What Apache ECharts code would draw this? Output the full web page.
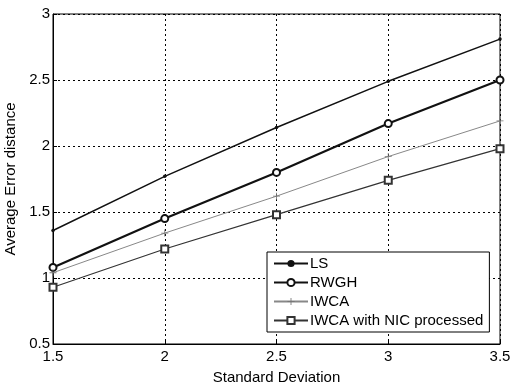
<!DOCTYPE html>
<html><head><meta charset="utf-8">
<script src="https://cdn.jsdelivr.net/npm/echarts@6/dist/echarts.min.js"></script>
<style>html,body{margin:0;padding:0;background:#fff}#c{width:510px;height:386px}</style>
</head><body><div id="c"></div>
<script>
const xValues = [1.5, 2, 2.5, 3, 3.5];
const lsValues = [1.36, 1.77, 2.14, 2.49, 2.81];
const rwghValues = [1.08, 1.45, 1.80, 2.17, 2.50];
const iwcaValues = [1.04, 1.34, 1.62, 1.92, 2.19];
const nicValues = [0.93, 1.22, 1.48, 1.74, 1.98];
const seriesNames = ['LS', 'RWGH', 'IWCA', 'IWCA with NIC processed'];
const xTitle = 'Standard Deviation';
const yTitle = 'Average Error distance';

const pair = v => xValues.map((x, i) => [x, v[i]]);
const font = 'Liberation Sans, Arial, sans-serif';
const plus = 'path://M4.4,0H5.6V4.4H10V5.6H5.6V10H4.4V5.6H0V4.4H4.4Z';

const chart = echarts.init(document.getElementById('c'), null, {renderer: 'canvas'});
chart.setOption({
  animation: false,
  backgroundColor: '#fff',
  grid: {left: 53, right: 10, top: 14, bottom: 42, show: true, borderColor: '#000', borderWidth: 1,
         containLabel: false, outerBoundsMode: 'none'},
  xAxis: {
    type: 'value', min: 1.5, max: 3.5, interval: 0.5,
    name: xTitle, nameLocation: 'middle', nameGap: 26,
    nameTextStyle: {fontFamily: font, fontSize: 15, color: '#000'},
    axisLine: {lineStyle: {color: '#000'}},
    axisTick: {inside: true, length: 4, lineStyle: {color: '#000'}},
    axisLabel: {fontFamily: font, fontSize: 15, color: '#000', margin: 5},
    splitLine: {show: true, lineStyle: {color: '#000', type: [2, 3], width: 1}}
  },
  yAxis: {
    type: 'value', min: 0.5, max: 3, interval: 0.5,
    name: yTitle, nameLocation: 'middle', nameGap: 31,
    nameTextStyle: {fontFamily: font, fontSize: 15, color: '#000'},
    axisLine: {lineStyle: {color: '#000'}},
    axisTick: {inside: true, length: 4, lineStyle: {color: '#000'}},
    axisLabel: {fontFamily: font, fontSize: 15, color: '#000', margin: 3},
    splitLine: {show: true, lineStyle: {color: '#000', type: [2, 3], width: 1}}
  },
  legend: {
    orient: 'vertical', left: 267, top: 252,
    backgroundColor: '#fff', borderColor: '#000', borderWidth: 1,
    padding: [4, 6, 4, 6], itemGap: 4, itemWidth: 34, itemHeight: 9,
    textStyle: {fontFamily: font, fontSize: 15, color: '#000', padding: [0, 0, 0, -3]},
    data: seriesNames
  },
  series: [
    {name: seriesNames[0], type: 'line', data: pair(lsValues), symbol: 'circle', symbolSize: 3.5,
     lineStyle: {color: '#111', width: 1.5}, itemStyle: {color: '#111'}},
    {name: seriesNames[1], type: 'line', data: pair(rwghValues), symbol: 'emptyCircle', symbolSize: 7,
     lineStyle: {color: '#111', width: 2.2}, itemStyle: {color: '#111', borderWidth: 1.8}},
    {name: seriesNames[2], type: 'line', data: pair(iwcaValues), symbol: plus, symbolSize: 7,
     lineStyle: {color: '#888', width: 1}, itemStyle: {color: '#777'}},
    {name: seriesNames[3], type: 'line', data: pair(nicValues), symbol: 'emptyRect', symbolSize: 7,
     lineStyle: {color: '#333', width: 1.2}, itemStyle: {color: '#333', borderWidth: 1.2}}
  ]
});
</script></body></html>
